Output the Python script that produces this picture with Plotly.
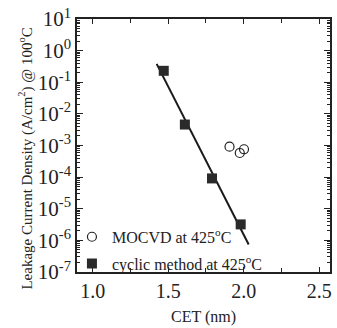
import plotly.graph_objects as go

# Data
cet_cyclic = [1.47, 1.61, 1.79, 1.98]
j_cyclic = [2.3e-1, 4.6e-3, 9.1e-5, 3.2e-6]

cet_mocvd = [1.906, 1.974, 2.002]
j_mocvd = [9.2e-4, 5.8e-4, 7.6e-4]

fit_x = [1.423, 2.033]
fit_y = [3.8e-1, 7.4e-7]

x_tickvals = [1.0, 1.5, 2.0, 2.5]
x_ticktext = ["1.0", "1.5", "2.0", "2.5"]
y_exponents = [-7, -6, -5, -4, -3, -2, -1, 0, 1]

FONT = "Liberation Serif, Times New Roman, DejaVu Serif, serif"

fig = go.Figure()
fig.add_trace(go.Scatter(
    x=fit_x, y=fit_y, mode="lines",
    line=dict(color="#1a1a1a", width=2), showlegend=False))
fig.add_trace(go.Scatter(
    x=cet_mocvd, y=j_mocvd, mode="markers", name="MOCVD at 425<sup>o</sup>C",
    legendgroup="a",
    marker=dict(symbol="circle-open", size=9, color="#222", line=dict(width=1.2))))
fig.add_trace(go.Scatter(
    x=cet_cyclic, y=j_cyclic, mode="markers", name="cyclic method at 425<sup>o</sup>C",
    legendgroup="b",
    marker=dict(symbol="square", size=10, color="#2a2a2a")))

minor_vals = [m * 10 ** e for e in y_exponents[:-1] for m in range(2, 10)]

fig.update_layout(
    width=337, height=328,
    margin=dict(l=77, r=5, t=16, b=52),
    paper_bgcolor="white", plot_bgcolor="white",
    font=dict(family=FONT, color="#222"),
    legend=dict(x=-0.02, y=-0.035, xanchor="left", yanchor="bottom",
                bgcolor="rgba(0,0,0,0)", font=dict(size=16, family=FONT),
                tracegroupgap=3),
    xaxis=dict(
        range=[0.895, 2.572],
        tickvals=x_tickvals, ticktext=x_ticktext,
        ticks="inside", ticklen=5, tickcolor="#222",
        minor=dict(dtick=0.25, tick0=0, ticks="inside", ticklen=4, tickcolor="#222"),
        showline=True, linecolor="#222", linewidth=1.5, mirror="ticks",
        showgrid=False, zeroline=False,
        tickfont=dict(size=20, family=FONT),
        title=dict(text="CET (nm)", font=dict(size=16, family=FONT), standoff=10),
    ),
    yaxis=dict(
        type="log", range=[-7, 1],
        tickvals=[10 ** e for e in y_exponents],
        ticktext=["10<sup>%d</sup>" % e for e in y_exponents],
        ticks="inside", ticklen=6, tickcolor="#222",
        minor=dict(tickvals=minor_vals, ticks="inside", ticklen=3, tickcolor="#222"),
        showline=True, linecolor="#222", linewidth=1.5, mirror="ticks",
        showgrid=False, zeroline=False,
        tickfont=dict(size=21, family=FONT),
    ),
    annotations=[dict(
        text="Leakage Current Density (A/cm<sup>2</sup>) @ 100<sup>o</sup>C",
        textangle=-90, xref="paper", yref="paper",
        x=-0.204, y=0.45, xanchor="center", yanchor="middle",
        showarrow=False, font=dict(size=15, family=FONT, color="#222"))],
)

fig.write_html("out.html")
